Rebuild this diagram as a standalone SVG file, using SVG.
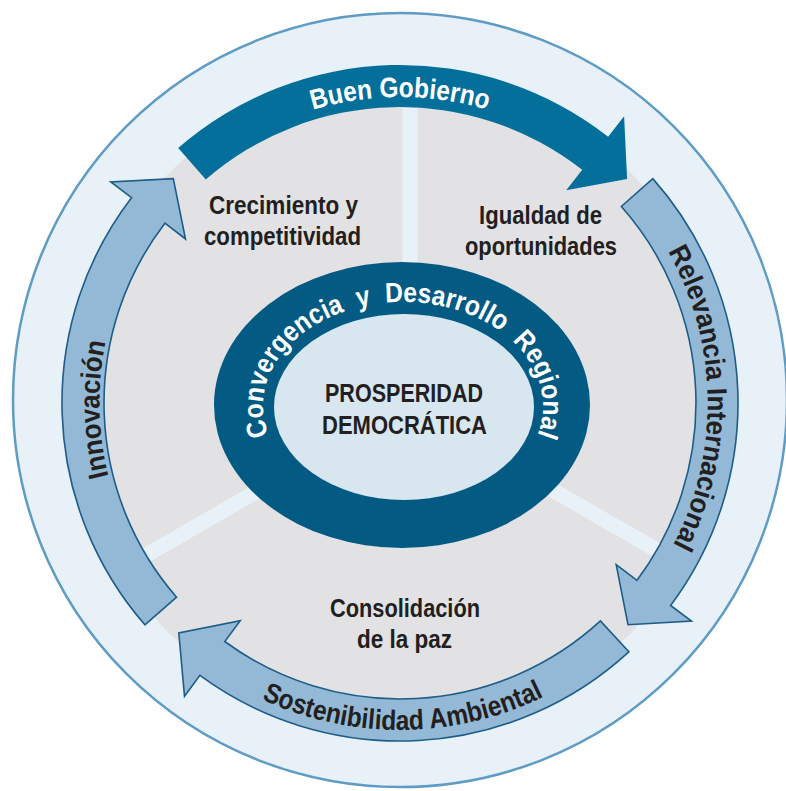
<svg xmlns="http://www.w3.org/2000/svg" width="786" height="791" viewBox="0 0 786 791">
<defs>
<style>
.t{font-family:"Liberation Sans",Arial,sans-serif;font-weight:bold}
.lbl{font-size:26px;fill:#231f20;text-anchor:middle}
.ctr{font-size:26.5px;fill:#231f20;text-anchor:middle}
.arr{font-size:28px;text-anchor:middle}
.la{fill:#93b9d6;stroke:#1d5d87;stroke-width:1.6;stroke-linejoin:miter}
.div{stroke:#e9f1f8;stroke-width:15}
</style>
<path id="pBG" d="M 94,403 A 306 306 0 0 1 706,403"/>
<path id="pRI" d="M 394.6,94.05 A 309 309 0 0 1 405.4,711.95"/>
<path id="pIN" d="M 406.4,707.9 A 305 305 0 0 1 393.6,98.1"/>
<path id="pSA" d="M 73,405.9 A 327 327 0 0 0 727,400.1"/>
<path id="pCV" d="M 403,510 A 140 104 0 0 1 263,406 A 140 104 0 0 1 543,406 A 140 104 0 0 1 403,510"/>
</defs>
<rect width="786" height="791" fill="#ffffff"/>
<g id="background">
<circle cx="400" cy="400" r="387" fill="#e9f1f8" stroke="#5f9cc4" stroke-width="2.5"/>
<circle cx="400" cy="403" r="326" fill="#e2e2e4"/>
<line class="div" x1="410" y1="403" x2="410" y2="60"/>
<line class="div" x1="410" y1="403" x2="110" y2="576"/>
<line class="div" x1="405" y1="405" x2="700" y2="575"/>
</g>
<g id="center">
<ellipse cx="402" cy="405" rx="188" ry="143" fill="#035a83"/>
<ellipse cx="404" cy="407" rx="130" ry="93" fill="#d8e6f0"/>
<text class="t ctr" x="404" y="402" textLength="158" lengthAdjust="spacingAndGlyphs">PROSPERIDAD</text>
<text class="t ctr" x="404.5" y="434" textLength="165" lengthAdjust="spacingAndGlyphs">DEMOCRÁTICA</text>
<text class="t arr" fill="#ffffff" style="word-spacing:8px"><textPath href="#pCV" startOffset="50%" textLength="445" lengthAdjust="spacingAndGlyphs">Convergencia y Desarrollo Regional</textPath></text>
</g>
<g id="label-crecimiento">
<text class="t lbl" x="283.5" y="214" textLength="149" lengthAdjust="spacingAndGlyphs">Crecimiento y</text>
<text class="t lbl" x="282.5" y="245" textLength="157" lengthAdjust="spacingAndGlyphs">competitividad</text>
</g>
<g id="label-igualdad">
<text class="t lbl" x="540.5" y="224" textLength="123" lengthAdjust="spacingAndGlyphs">Igualdad de</text>
<text class="t lbl" x="541" y="255" textLength="152" lengthAdjust="spacingAndGlyphs">oportunidades</text>
</g>
<g id="label-consolidacion">
<text class="t lbl" x="405" y="617" textLength="150" lengthAdjust="spacingAndGlyphs">Consolidación</text>
<text class="t lbl" x="404.5" y="648" textLength="95" lengthAdjust="spacingAndGlyphs">de la paz</text>
</g>
<g id="connectors">
<g id="arrow-buen-gobierno">
<path fill="#046f9a" d="M 178.2,147.9 A 338 338 0 0 1 608.1,136.7 L 624.1,116.2 L 627.1,179 L 566.2,190.2 L 582.2,169.8 A 296 296 0 0 0 205.8,179.6 Z"/>
<text class="t arr" fill="#ffffff"><textPath href="#pBG" startOffset="50%" textLength="177" lengthAdjust="spacingAndGlyphs">Buen Gobierno</textPath></text>
</g>
<g id="arrow-relevancia">
<path class="la" d="M 652.8,178.6 A 338 338 0 0 1 670.6,605.5 L 691.5,621 L 628,624.7 L 616.2,564.7 L 637,580.3 A 296 296 0 0 0 621.3,206.5 Z"/>
<text class="t arr" fill="#231f20"><textPath href="#pRI" startOffset="50%" textLength="306" lengthAdjust="spacingAndGlyphs">Relevancia Internacional</textPath></text>
</g>
<g id="arrow-sostenibilidad">
<path class="la" d="M 628.8,651.8 A 338 338 0 0 1 199.9,675.4 L 184.5,696.3 L 178.8,632.9 L 240.2,620.6 L 224.8,641.5 A 296 296 0 0 0 600.4,620.9 Z"/>
<text class="t arr" fill="#231f20"><textPath href="#pSA" startOffset="50%" textLength="292" lengthAdjust="spacingAndGlyphs">Sostenibilidad Ambiental</textPath></text>
</g>
<g id="arrow-innovacion">
<path class="la" d="M 144.9,624.8 A 338 338 0 0 1 131.5,197.7 L 110.8,181.9 L 173.3,178.6 L 185.5,239 L 164.9,223.2 A 296 296 0 0 0 176.6,597.2 Z"/>
<text class="t arr" fill="#231f20"><textPath href="#pIN" startOffset="50%" textLength="136" lengthAdjust="spacingAndGlyphs">Innovación</textPath></text>
</g>
</g>
</svg>
